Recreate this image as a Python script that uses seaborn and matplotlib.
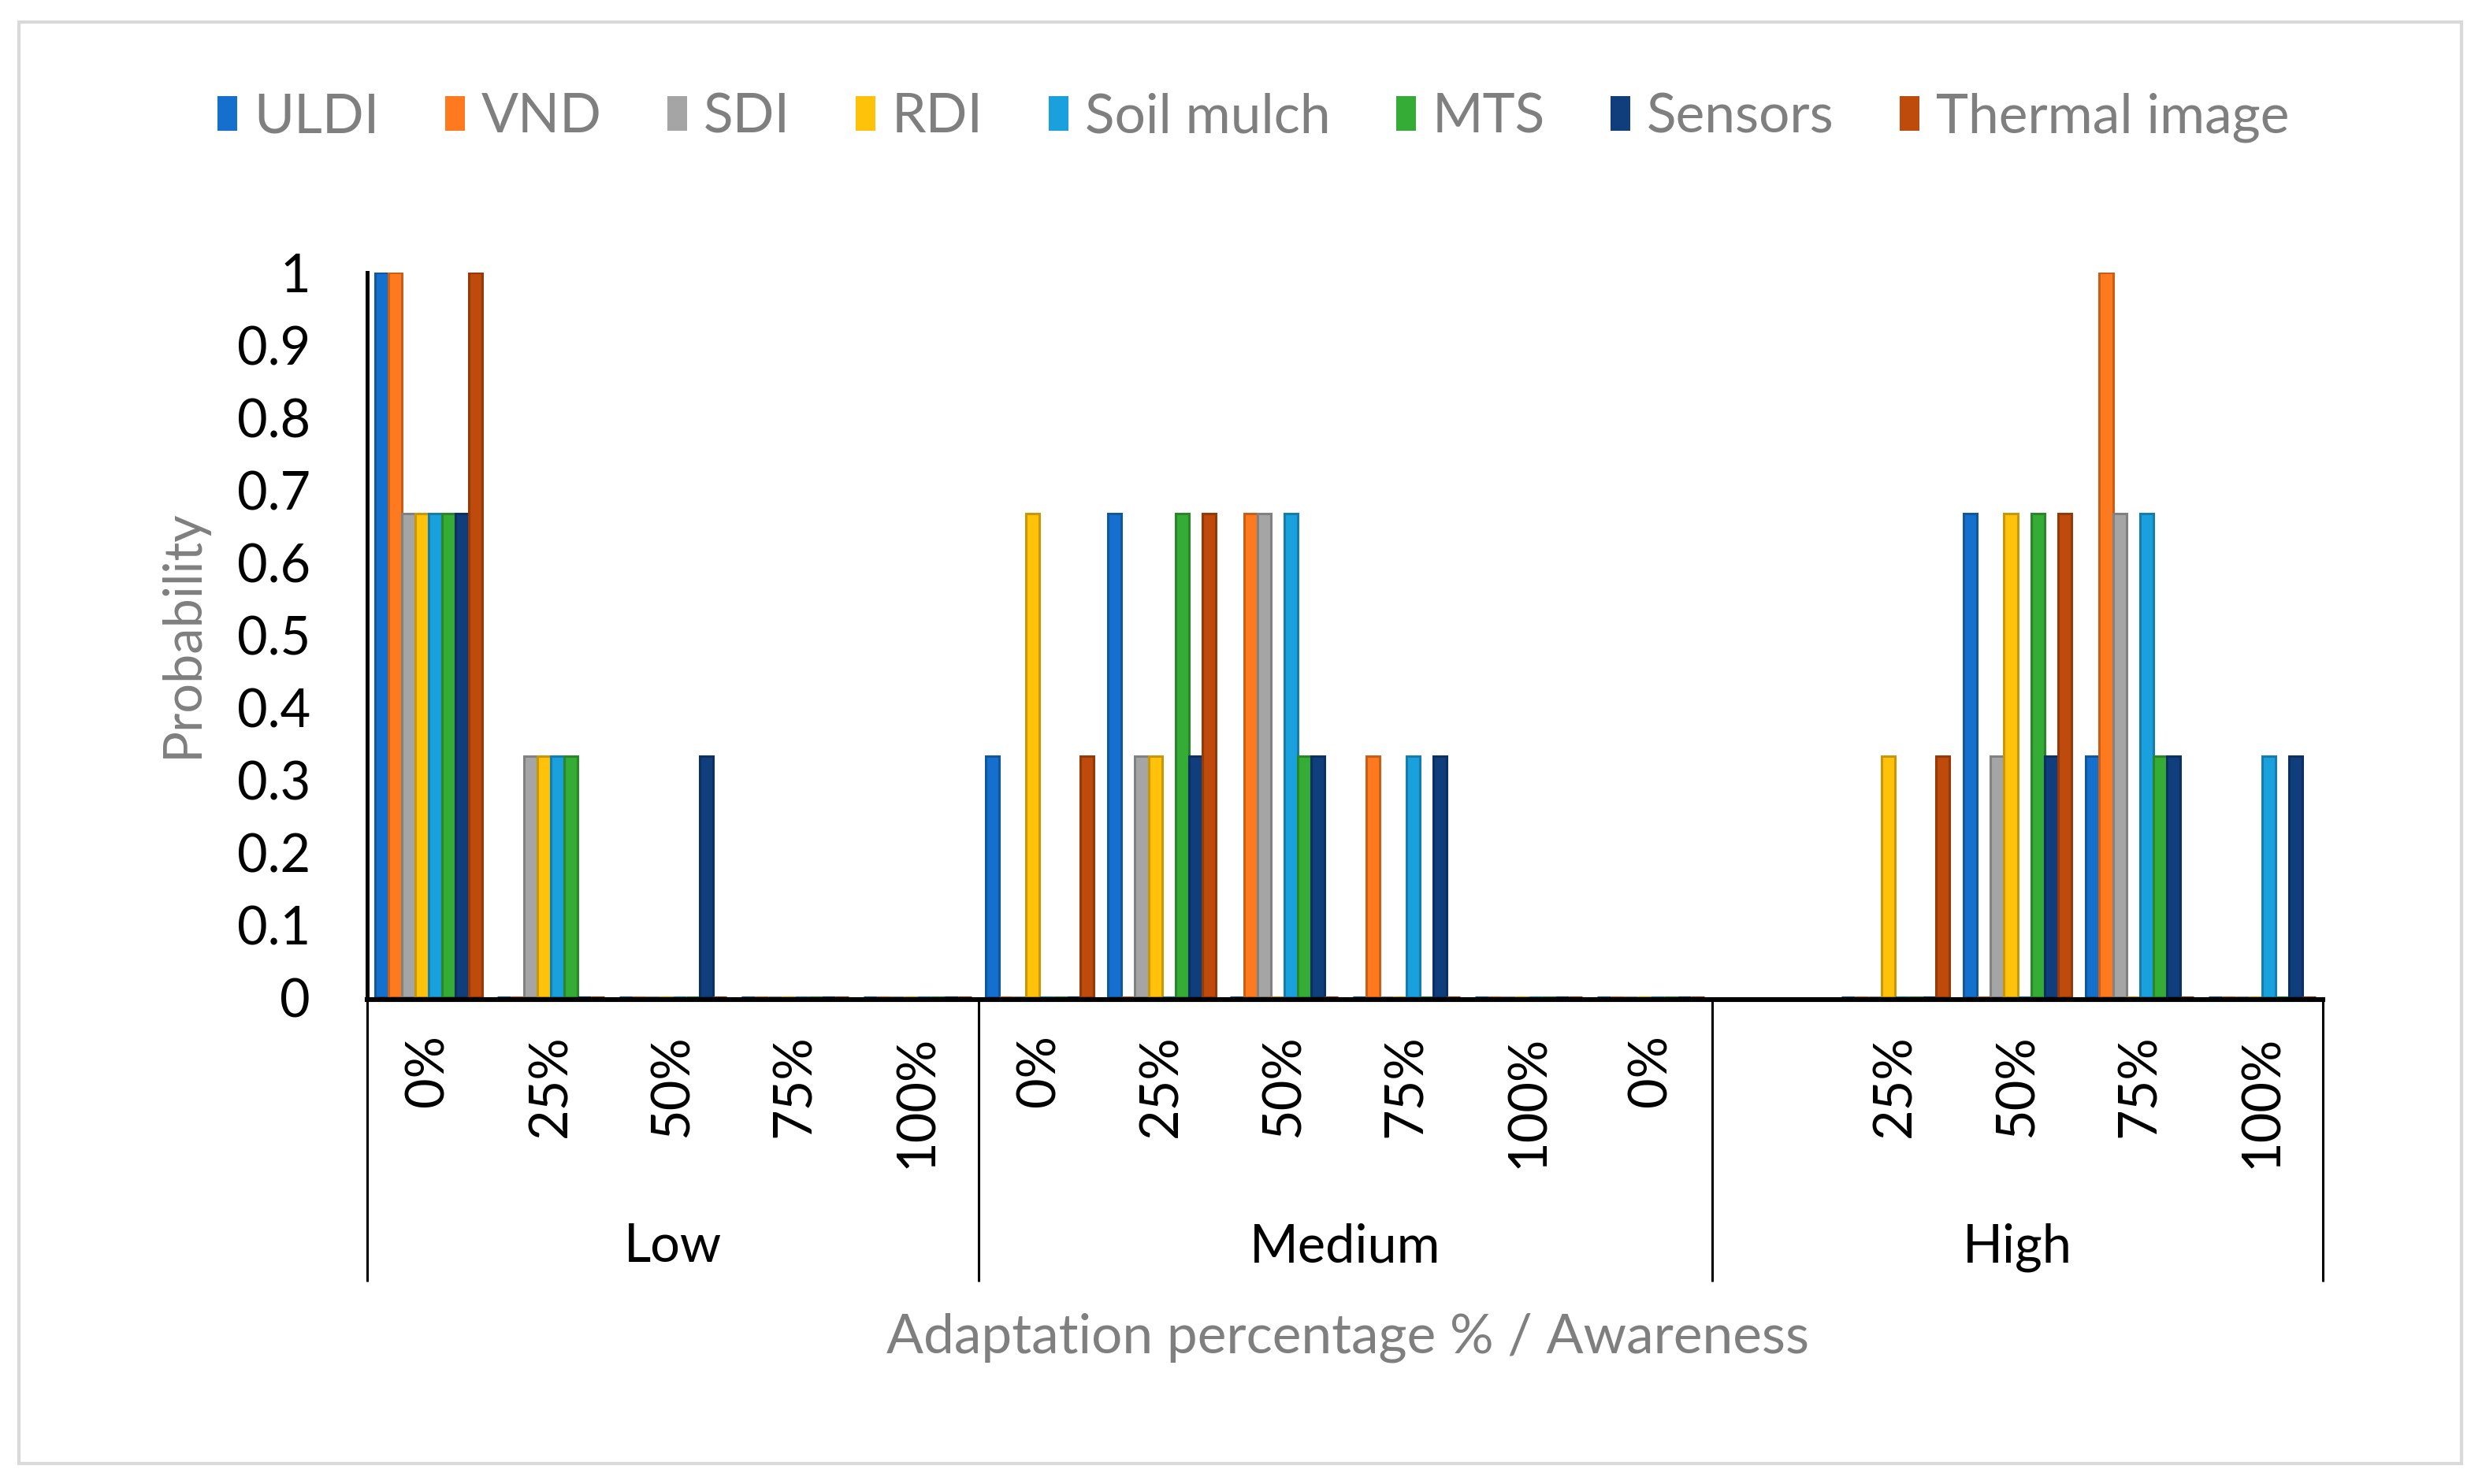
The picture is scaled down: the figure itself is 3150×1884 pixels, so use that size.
import numpy as np
import pandas as pd
import matplotlib
matplotlib.use("Agg")
import matplotlib.pyplot as plt
import matplotlib.colors as mcolors
from matplotlib.patches import Patch, Rectangle
import matplotlib.transforms as mtransforms
from matplotlib.ticker import FixedLocator, FixedFormatter
import seaborn as sns

# ---------------- data ----------------
series = ["ULDI", "VND", "SDI", "RDI", "Soil mulch", "MTS", "Sensors", "Thermal image"]
groups = ["Low", "Medium", "High"]
slot_group = ["Low"] * 5 + ["Medium"] * 6 + ["High"] * 5
slot_labels = ["0%", "25%", "50%", "75%", "100%",
               "0%", "25%", "50%", "75%", "100%", "0%",
               "", "25%", "50%", "75%", "100%"]

uldi    = [1.0, 0, 0, 0, 0, 0.333, 0.667, 0, 0, 0, 0, None, 0, 0.667, 0.333, 0]
vnd     = [1.0, 0, 0, 0, 0, 0, 0, 0.667, 0.333, 0, 0, None, 0, 0, 1.0, 0]
sdi     = [0.667, 0.333, 0, 0, 0, 0, 0.333, 0.667, 0, 0, 0, None, 0, 0.333, 0.667, 0]
rdi     = [0.667, 0.333, 0, 0, 0, 0.667, 0.333, 0, 0, 0, 0, None, 0.333, 0.667, 0, 0]
soil    = [0.667, 0.333, 0, 0, 0, 0, 0, 0.667, 0.333, 0, 0, None, 0, 0, 0.667, 0.333]
mts     = [0.667, 0.333, 0, 0, 0, 0, 0.667, 0.333, 0, 0, 0, None, 0, 0.667, 0.333, 0]
sensors = [0.667, 0, 0.333, 0, 0, 0, 0.333, 0.333, 0.333, 0, 0, None, 0, 0.333, 0.333, 0.333]
thermal = [1.0, 0, 0, 0, 0, 0.333, 0.667, 0, 0, 0, 0, None, 0.333, 0.667, 0, 0]

yticks = [0, 0.1, 0.2, 0.3, 0.4, 0.5, 0.6, 0.7, 0.8, 0.9, 1]
ytick_labels = ["0", "0.1", "0.2", "0.3", "0.4", "0.5", "0.6", "0.7", "0.8", "0.9", "1"]

colors = ["#1470CC", "#FF7A1F", "#A5A5A5", "#FFC20A", "#1AA0DD", "#35AC35", "#103E7C", "#BE4A0C"]

# ---------------- table ----------------
slot_keys = [f"{g}|{i}" for i, g in enumerate(slot_group)]
all_vals = [uldi, vnd, sdi, rdi, soil, mts, sensors, thermal]
rows = []
for s, vals in zip(series, all_vals):
    for k, v in zip(slot_keys, vals):
        if v is not None:
            rows.append({"slot": k, "series": s, "value": v})
df = pd.DataFrame(rows)

# ---------------- style ----------------
sns.set_theme(style="white")
plt.rcParams["font.family"] = ["Lato", "DejaVu Sans"]

fig = plt.figure(figsize=(15.75, 9.42), dpi=200)
ax = fig.add_axes([0.148, 0.328, 0.788, 0.4883])

sns.barplot(data=df, x="slot", y="value", hue="series", order=slot_keys,
            hue_order=series, palette=colors, errorbar=None, width=0.88,
            saturation=1, ax=ax, legend=False)

for cont, c in zip(ax.containers, colors):
    dark = tuple(np.array(mcolors.to_rgb(c)) * 0.78)
    for p in cont:
        p.set_edgecolor(dark)
        p.set_linewidth(1.1)
        p.set_zorder(2)

ax.set_ylim(0, 1)
ax.set_xlim(-0.5, len(slot_keys) - 0.5)
ax.yaxis.set_major_locator(FixedLocator(yticks))
ax.yaxis.set_major_formatter(FixedFormatter(ytick_labels))
ax.xaxis.set_major_locator(FixedLocator(list(range(len(slot_keys)))))
ax.xaxis.set_major_formatter(FixedFormatter(slot_labels))
ax.tick_params(axis="x", length=0, pad=16, labelsize=24, labelrotation=90,
               labelcolor="black")
ax.tick_params(axis="y", length=0, pad=26, labelsize=24, labelcolor="black")
ax.set_xlabel("")
ax.set_ylabel("")
fig.canvas.draw()
for lbl in ax.get_xticklabels():
    lbl.set_verticalalignment("top")
    lbl.set_horizontalalignment("center")

for side in ["top", "right"]:
    ax.spines[side].set_visible(False)
ax.spines["left"].set_color("black")
ax.spines["left"].set_linewidth(1.8)
ax.spines["bottom"].set_color("black")
ax.spines["bottom"].set_linewidth(2.2)
ax.spines["bottom"].set_position(("outward", 1.1))
ax.spines["bottom"].set_zorder(3)

# group separators and group labels
trans = mtransforms.blended_transform_factory(ax.transData, ax.transAxes)
bounds = [-0.5, 4.5, 10.5, 15.5]
for b in bounds:
    ax.plot([b, b], [0, -0.392], transform=trans, color="black", lw=1.1,
            clip_on=False, solid_capstyle="butt")
starts = [0, 5, 11]
ends = [4, 10, 15]
for g, s0, e0 in zip(groups, starts, ends):
    ax.text((s0 + e0) / 2, -0.345, g, transform=trans, ha="center", va="center",
            fontsize=24, color="black")

# axis titles
fig.text(0.543, 0.0987, "Adaptation percentage % / Awareness", ha="center",
         va="center", fontsize=25, color="#7F7F7F")
fig.text(0.0735, 0.573, "Probability", ha="center", va="center", rotation=90,
         fontsize=24, color="#7F7F7F")

# legend
handles = [Patch(facecolor=c, edgecolor="none") for c in colors]
leg = fig.legend(handles, series, loc="center", bbox_to_anchor=(0.505, 0.921),
                 ncol=8, frameon=False, fontsize=25, handlelength=0.36,
                 handleheight=0.6, handletextpad=0.3, columnspacing=1.2)
for t in leg.get_texts():
    t.set_color("#7F7F7F")

# outer border
fig.patches.append(Rectangle((24 / 3150, 26 / 1884), 3100 / 3150, 1830 / 1884,
                             transform=fig.transFigure, fill=False,
                             edgecolor="#D9D9D9", lw=1.5))

fig.savefig("out.png", dpi=200, facecolor="white")
